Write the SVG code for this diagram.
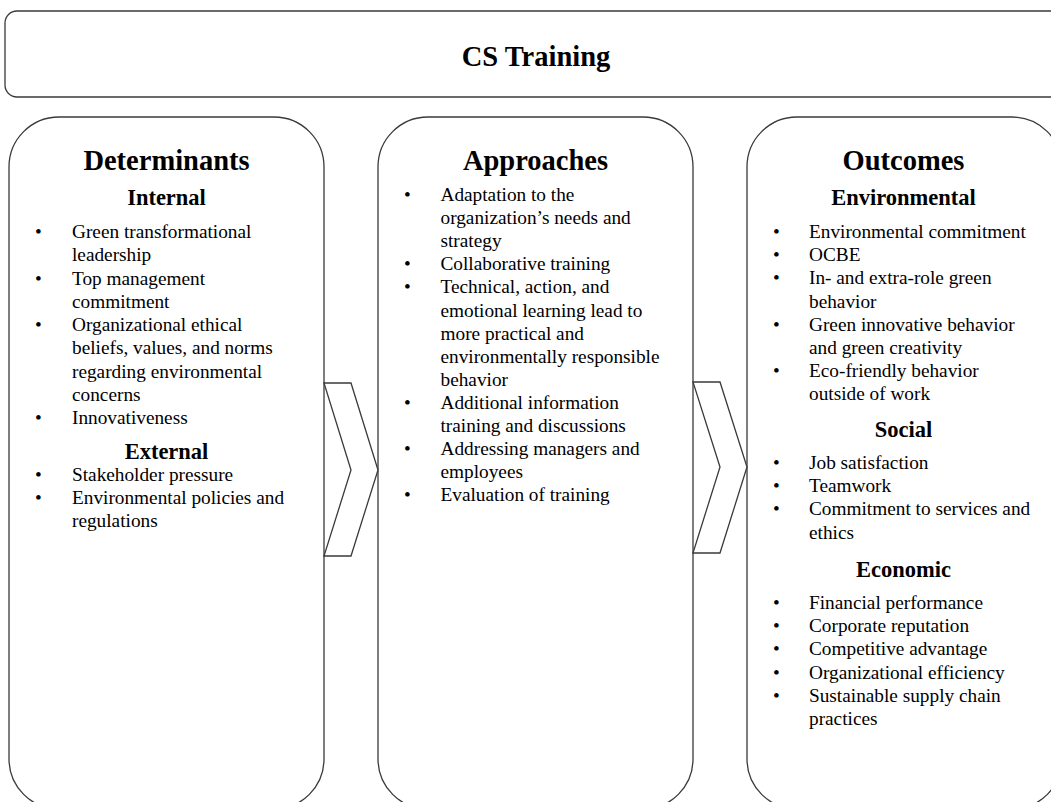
<svg xmlns="http://www.w3.org/2000/svg" width="1051" height="802" viewBox="0 0 1051 802">
<style>
.box{fill:#fff;stroke:#3a3a3a;stroke-width:1.3}
.chev{fill:#fff;stroke:#3a3a3a;stroke-width:1.3;stroke-linejoin:miter}
text{font-family:"Liberation Serif","Times New Roman",serif;fill:#000}
.title{font-size:28.5px;font-weight:bold;text-anchor:middle}
.sub{font-size:22.5px;font-weight:bold;text-anchor:middle}
.it{font-size:19.3px}
.bl{font-size:19.3px}
</style>
<rect width="1051" height="802" fill="#fff"/>
<g id="cs-training">
<rect class="box" x="5" y="11" width="1070" height="86" rx="12" ry="12"/>
<text class="title" x="536" y="66">CS Training</text>
</g>
<g id="determinants">
<rect class="box" x="9" y="117" width="315" height="692" rx="50" ry="50"/>
<text class="title" x="166.5" y="170">Determinants</text>
<text class="sub" x="166.5" y="205">Internal</text>
<g class="bl"><text class="bl" x="35" y="238">•</text><text class="bl" x="35" y="284.5">•</text><text class="bl" x="35" y="331">•</text><text class="bl" x="35" y="424">•</text></g>
<text class="it" x="72" y="238">Green transformational</text>
<text class="it" x="72" y="261.2">leadership</text>
<text class="it" x="72" y="284.5">Top management</text>
<text class="it" x="72" y="307.7">commitment</text>
<text class="it" x="72" y="331">Organizational ethical</text>
<text class="it" x="72" y="354.2">beliefs, values, and norms</text>
<text class="it" x="72" y="377.5">regarding environmental</text>
<text class="it" x="72" y="400.7">concerns</text>
<text class="it" x="72" y="424">Innovativeness</text>
<text class="sub" x="166.5" y="459">External</text>
<text class="bl" x="35" y="481">•</text><text class="bl" x="35" y="504">•</text>
<text class="it" x="72" y="481">Stakeholder pressure</text>
<text class="it" x="72" y="504">Environmental policies and</text>
<text class="it" x="72" y="527">regulations</text>
</g>
<g id="approaches">
<rect class="box" x="378" y="117" width="315" height="692" rx="50" ry="50"/>
<text class="title" x="535.5" y="170">Approaches</text>
<text class="bl" x="404" y="201">•</text>
<text class="bl" x="404" y="270.3">•</text>
<text class="bl" x="404" y="293.4">•</text>
<text class="bl" x="404" y="408.9">•</text>
<text class="bl" x="404" y="455.1">•</text>
<text class="bl" x="404" y="501.3">•</text>
<text class="it" x="440.5" y="201">Adaptation to the</text>
<text class="it" x="440.5" y="224.1">organization’s needs and</text>
<text class="it" x="440.5" y="247.2">strategy</text>
<text class="it" x="440.5" y="270.3">Collaborative training</text>
<text class="it" x="440.5" y="293.4">Technical, action, and</text>
<text class="it" x="440.5" y="316.5">emotional learning lead to</text>
<text class="it" x="440.5" y="339.6">more practical and</text>
<text class="it" x="440.5" y="362.7">environmentally responsible</text>
<text class="it" x="440.5" y="385.8">behavior</text>
<text class="it" x="440.5" y="408.9">Additional information</text>
<text class="it" x="440.5" y="432">training and discussions</text>
<text class="it" x="440.5" y="455.1">Addressing managers and</text>
<text class="it" x="440.5" y="478.2">employees</text>
<text class="it" x="440.5" y="501.3">Evaluation of training</text>
</g>
<g id="outcomes">
<rect class="box" x="747" y="117" width="315" height="692" rx="50" ry="50"/>
<text class="title" x="903.5" y="170">Outcomes</text>
<text class="sub" x="903.5" y="205">Environmental</text>
<text class="bl" x="773" y="238">•</text>
<text class="bl" x="773" y="261.2">•</text>
<text class="bl" x="773" y="284.4">•</text>
<text class="bl" x="773" y="330.8">•</text>
<text class="bl" x="773" y="377.2">•</text>
<text class="it" x="809" y="238">Environmental commitment</text>
<text class="it" x="809" y="261.2">OCBE</text>
<text class="it" x="809" y="284.4">In- and extra-role green</text>
<text class="it" x="809" y="307.6">behavior</text>
<text class="it" x="809" y="330.8">Green innovative behavior</text>
<text class="it" x="809" y="354">and green creativity</text>
<text class="it" x="809" y="377.2">Eco-friendly behavior</text>
<text class="it" x="809" y="400.4">outside of work</text>
<text class="sub" x="903.5" y="437">Social</text>
<text class="bl" x="773" y="469">•</text>
<text class="bl" x="773" y="492.2">•</text>
<text class="bl" x="773" y="515.4">•</text>
<text class="it" x="809" y="469">Job satisfaction</text>
<text class="it" x="809" y="492.2">Teamwork</text>
<text class="it" x="809" y="515.4">Commitment to services and</text>
<text class="it" x="809" y="538.6">ethics</text>
<text class="sub" x="903.5" y="577">Economic</text>
<text class="bl" x="773" y="609">•</text>
<text class="bl" x="773" y="632.2">•</text>
<text class="bl" x="773" y="655.4">•</text>
<text class="bl" x="773" y="678.6">•</text>
<text class="bl" x="773" y="701.8">•</text>
<text class="it" x="809" y="609">Financial performance</text>
<text class="it" x="809" y="632.2">Corporate reputation</text>
<text class="it" x="809" y="655.4">Competitive advantage</text>
<text class="it" x="809" y="678.6">Organizational efficiency</text>
<text class="it" x="809" y="701.8">Sustainable supply chain</text>
<text class="it" x="809" y="725">practices</text>
</g>
<g id="connectors">
<polygon class="chev" points="324,383 351,383 378,470 351,556 324,556 351,470"/>
<polygon class="chev" points="693,382 720,382 747,467 720,553 693,553 720,467"/>
</g>
</svg>
